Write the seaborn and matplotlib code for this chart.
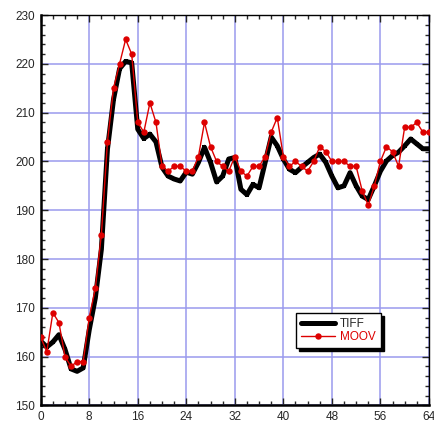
import numpy as np
import pandas as pd
import matplotlib
matplotlib.use("Agg")
import matplotlib.pyplot as plt
import seaborn as sns
from matplotlib.ticker import MultipleLocator

# datos
frames = list(range(65))
tiff = [163.2, 162, 163, 164.5, 161.5, 157.5, 157, 157.7, 165.5, 172, 182,
        202.5, 212.7, 219, 220.5, 220.2, 206.6, 204.7, 205.6, 204, 198.8,
        197, 196.4, 196, 197.8, 197.4, 199.8, 202.9, 199.8, 195.8, 197,
        200.5, 200.8, 194.3, 193.2, 195.3, 194.6, 199.8, 205, 203.2, 200.5,
        198.4, 197.7, 198.8, 199.8, 200.8, 201.5, 199.8, 197, 194.6, 195,
        197.7, 195, 192.9, 192.2, 195, 198, 200.1, 201.2, 201.9, 203.2,
        204.6, 203.6, 202.6, 202.6]
moov = [164, 161, 169, 167, 160, 158, 159, 159, 168, 174, 185,
        204, 215, 220, 225, 222, 208, 206, 212, 208, 199,
        198, 199, 199, 198, 198, 201, 208, 203, 200, 199,
        198, 201, 198, 197, 199, 199, 201, 206, 209, 201,
        199, 200, 199, 198, 200, 203, 202, 200, 200, 200,
        199, 199, 194, 191, 195, 200, 203, 202, 199, 207,
        207, 208, 206, 206]

df = pd.DataFrame({'frame': frames, 'TIFF': tiff, 'MOOV': moov})

sns.set_style("ticks")
plt.rcParams['font.family'] = ['Liberation Sans', 'DejaVu Sans']

fig = plt.figure(figsize=(4.35, 4.29), dpi=100)
ax = fig.add_axes([0.0936, 0.0548, 0.8924, 0.9102])

rojo = '#dd0000'
sns.lineplot(data=df, x='frame', y='TIFF', ax=ax, color='black', linewidth=3.6,
             marker='s', markersize=3.5, markeredgewidth=0, label='TIFF', zorder=3)
sns.lineplot(data=df, x='frame', y='MOOV', ax=ax, color=rojo, linewidth=1.0,
             marker='o', markersize=4.6, markeredgewidth=0, label='MOOV', zorder=4)

ax.set_xlim(0, 64)
ax.set_ylim(150, 230)
ax.xaxis.set_major_locator(MultipleLocator(8))
ax.xaxis.set_minor_locator(MultipleLocator(2))
ax.yaxis.set_major_locator(MultipleLocator(10))
ax.yaxis.set_minor_locator(MultipleLocator(2))
ax.grid(True, which='major', color='#9a9aee', linewidth=1.1)
ax.set_axisbelow(True)
ax.tick_params(which='both', direction='in', top=True, right=True, labelsize=8.5, pad=4)
ax.tick_params(which='major', length=5, width=1)
ax.tick_params(which='minor', length=3, width=1)
for s in ax.spines.values():
    s.set_color('black')
    s.set_linewidth(1.0)
ax.spines['left'].set_linewidth(1.8)
ax.spines['bottom'].set_linewidth(1.8)
ax.set_xlabel('')
ax.set_ylabel('')

leg = ax.legend(loc='lower left', bbox_to_anchor=(0.658, 0.147), frameon=True,
                fancybox=False, shadow={'color': 'black', 'alpha': 1},
                fontsize=8.5, handlelength=2.8, borderpad=0.45, labelspacing=0.05,
                handletextpad=0.45, borderaxespad=0)
leg.get_frame().set_edgecolor('black')
leg.get_frame().set_linewidth(1.0)
leg.get_frame().set_alpha(1)
leg.get_texts()[1].set_color(rojo)

plt.savefig('out.png', dpi=100)
